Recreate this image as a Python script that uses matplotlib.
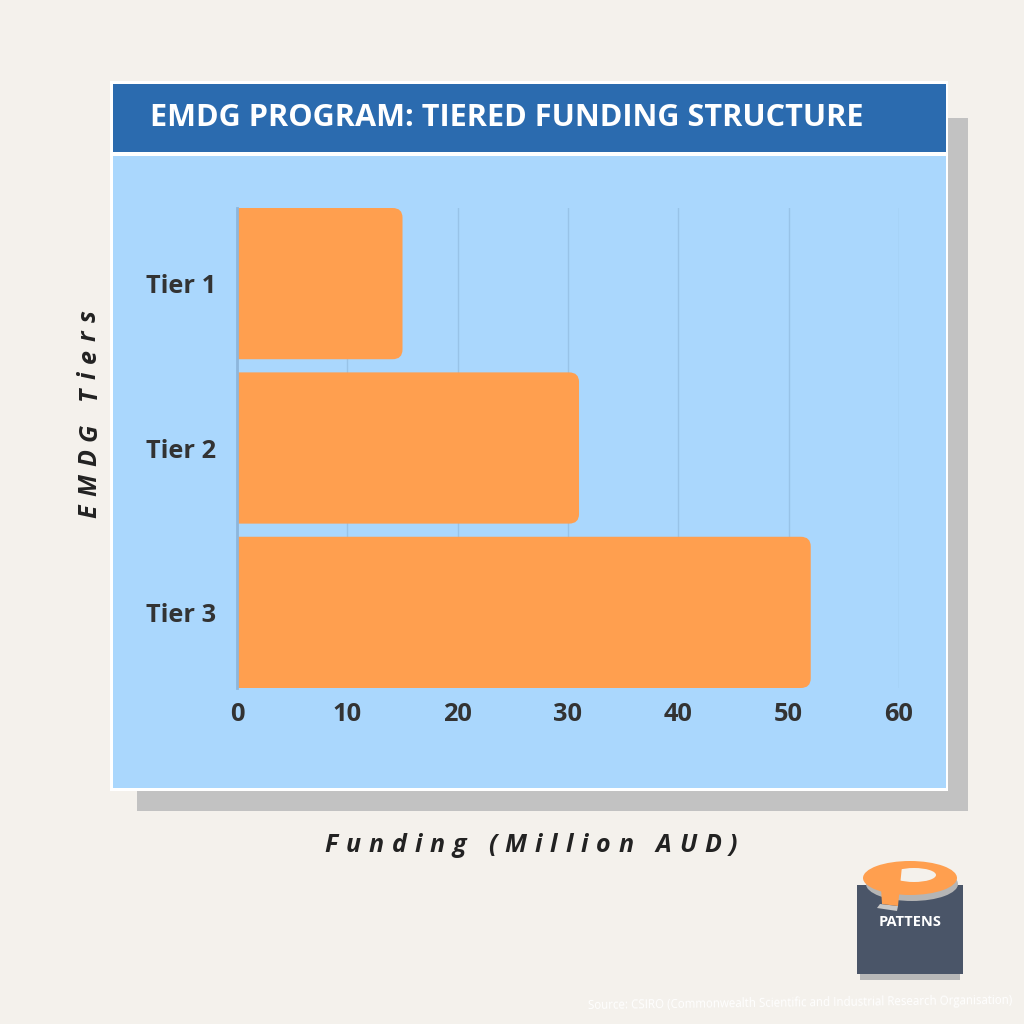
import matplotlib
matplotlib.use("Agg")
import matplotlib.pyplot as plt
from matplotlib.patches import Rectangle, FancyBboxPatch, Ellipse, Polygon
from matplotlib.font_manager import FontProperties
import numpy as np

plt.rcParams['font.family'] = ['Open Sans', 'DejaVu Sans']

# ---- data ----
tiers = ["Tier 1", "Tier 2", "Tier 3"]
funding = [15, 31, 52]
x_ticks = [0, 10, 20, 30, 40, 50, 60]
title = "EMDG PROGRAM: TIERED FUNDING STRUCTURE"
xlabel = "Funding (Million AUD)"
ylabel = "EMDG Tiers"
source = "Source: CSIRO (Commonwealth Scientific and Industrial Research Organisation)"

W = H = 1024
fig = plt.figure(figsize=(10.24, 10.24), dpi=100)
fig.patch.set_facecolor("#F4F1EC")
renderer = fig.canvas.get_renderer()

def frect(x0, y0, x1, y1, color, z=0):
    r = Rectangle((x0 / W, 1 - y1 / H), (x1 - x0) / W, (y1 - y0) / H,
                  transform=fig.transFigure, facecolor=color, edgecolor="none", zorder=z)
    fig.patches.append(r)

# shadow, white frame, title band, light panel
frect(137, 118, 968, 811, "#C2C2C2", 0)
frect(110, 81, 948, 791, "#FFFFFF", 1)
frect(113, 84, 946, 152, "#2B6BAF", 2)
frect(113, 156, 946, 788, "#AAD7FD", 2)

fig.text(150 / W, 1 - 118 / H, title, color="white", fontsize=22.1, fontweight="bold",
         ha="left", va="center", zorder=5)

# ---- axes ----
ax = fig.add_axes([237 / W, 1 - 688 / H, 662 / W, 480 / H])
ax.set_zorder(10)
ax.set_facecolor("none")
ypos = np.arange(len(tiers))
bars = ax.barh(ypos, funding, height=0.92, color="#FF9F4F", alpha=0)
for b in bars:
    x0, y0 = b.get_x(), b.get_y()
    w, h = b.get_width(), b.get_height()
    p = FancyBboxPatch((x0 - 2, y0), w + 2, h,
                       boxstyle="round,pad=0,rounding_size=0.9",
                       mutation_aspect=0.065,
                       facecolor="#FF9F4F", edgecolor="none", zorder=3)
    ax.add_patch(p)

ax.set_xlim(0, 60)
ax.set_ylim(2.46, -0.46)
ax.set_xticks(x_ticks)
ax.set_yticks(ypos)
ax.set_yticklabels(tiers)
ax.tick_params(axis="both", length=0, labelsize=18.3, labelcolor="#333333")
ax.tick_params(axis="x", pad=10)
ax.tick_params(axis="y", pad=15)
for lab in ax.get_xticklabels() + ax.get_yticklabels():
    lab.set_fontweight("bold")
ax.grid(axis="x", color="#98C3E8", linewidth=1)
ax.set_axisbelow(True)
for s in ["top", "right", "bottom"]:
    ax.spines[s].set_visible(False)
ax.spines["left"].set_color("#8DB6DC")
ax.spines["left"].set_linewidth(2)
ax.spines["left"].set_zorder(4)

# ---- axis titles (letter-spaced) ----
def spaced(s, cx, cy, total, fs, vertical=False):
    prop = FontProperties(family=['Open Sans', 'DejaVu Sans'], weight="bold",
                          style="italic", size=fs)
    def wid(t):
        if not t:
            return 0.0
        return renderer.get_text_width_height_descent(t, prop, ismath=False)[0]
    base = wid(s)
    sp = (total - base) / (len(s) - 1)
    start = -total / 2
    for i, ch in enumerate(s):
        off = start + wid(s[:i]) + i * sp
        if ch == " ":
            continue
        if vertical:
            fig.text(cx / W, 1 - (cy - off) / H, ch, fontproperties=prop,
                     color="#222222", ha="left", va="baseline", rotation=90,
                     rotation_mode="anchor")
        else:
            fig.text((cx + off) / W, 1 - cy / H, ch, fontproperties=prop,
                     color="#222222", ha="left", va="baseline")

spaced(xlabel, 531, 852, 413, 18)
spaced(ylabel, 96, 414, 208, 18, vertical=True)

# ---- logo ----
frect(857, 885, 963, 974, "#4A5568", 3)
frect(860, 974, 960, 980, "#B8B8B8", 2)
def fpoly(pts, color, z):
    pts = [(x / W, 1 - y / H) for x, y in pts]
    fig.patches.append(Polygon(pts, closed=True, transform=fig.transFigure,
                               facecolor=color, edgecolor="none", zorder=z))
def fell(cx, cy, w, h, color, z):
    fig.patches.append(Ellipse((cx / W, 1 - cy / H), w / W, h / H, transform=fig.transFigure,
                               facecolor=color, edgecolor="none", zorder=z))
fell(912, 884, 92, 34, "#B5B5B5", 3)
fell(910, 878, 94, 34, "#FF9F4F", 4)
fell(914, 875, 44, 14, "#F4F1EC", 5)
fpoly([(880, 872), (902, 866), (898, 906), (882, 904)], "#FF9F4F", 6)
fpoly([(880, 904), (898, 906), (897, 911), (877, 908)], "#C8C8C8", 5)
fig.text(910 / W, 1 - 922 / H, "PATTENS", color="white", fontsize=10.5, fontweight="bold",
         ha="center", va="center", zorder=7)

# ---- source ----
fig.text(1012 / W, 1 - 1003 / H, source, color="white", fontsize=8.3, ha="right",
         va="center", rotation=0.7, zorder=7)

fig.savefig("out.png", dpi=100, facecolor=fig.get_facecolor())
